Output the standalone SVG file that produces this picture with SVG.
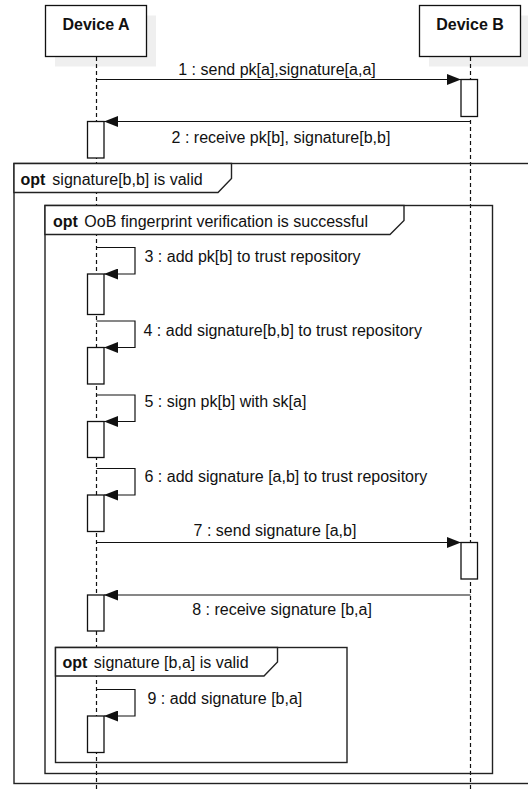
<svg xmlns="http://www.w3.org/2000/svg" width="528" height="789" viewBox="0 0 528 789">
<style>
text{font-family:"Liberation Sans",Arial,sans-serif;font-size:16px;fill:#111}
.b{font-weight:bold}
.actor{fill:#fff;stroke:#111;stroke-width:1.3}
.shadow{fill:#efefef}
.life{stroke:#111;stroke-width:1.2;stroke-dasharray:4 3;fill:none}
.act{fill:#fff;stroke:#111;stroke-width:1.3}
.msg{stroke:#111;stroke-width:1.2;fill:none;marker-end:url(#ah)}
.frame{fill:none;stroke:#222;stroke-width:1.4}
.tab{fill:#fff;stroke:#222;stroke-width:1.4}
</style>
<defs>
<marker id="ah" markerUnits="userSpaceOnUse" markerWidth="15" markerHeight="11" refX="14" refY="5.5" orient="auto">
<path d="M0,0 L14,5.5 L0,11 z" fill="#111"/>
</marker>
</defs>
<rect width="528" height="789" fill="#fff"/>

<g id="deviceA">
<rect class="shadow" x="55" y="15.5" width="101" height="51"/>
<rect class="actor" x="45.5" y="5.5" width="101" height="51"/>
<text class="b" x="96" y="29.5" text-anchor="middle">Device A</text>
</g>
<g id="deviceB">
<rect class="shadow" x="429" y="15.5" width="101" height="51"/>
<rect class="actor" x="419.5" y="5.5" width="101" height="51"/>
<text class="b" x="470" y="29.5" text-anchor="middle">Device B</text>
</g>

<g id="lifelines">
<line class="life" x1="96.5" y1="57" x2="96.5" y2="789"/>
<line class="life" x1="470.5" y1="57" x2="470.5" y2="789"/>
</g>

<g id="frame-outer">
<rect class="frame" x="14" y="163.5" width="520" height="620"/>
<path class="tab" d="M14,163.5 H231.5 V178.5 L218,192.5 H14 Z"/>
<text x="20.5" y="185"><tspan class="b">opt</tspan><tspan dx="2.5"> signature[b,b] is valid</tspan></text>
</g>
<g id="frame-oob">
<rect class="frame" x="45" y="205.5" width="447.5" height="568"/>
<path class="tab" d="M45,205.5 H404 V220.5 L390,234.5 H45 Z"/>
<text x="53" y="226.5"><tspan class="b">opt</tspan><tspan dx="2"> OoB fingerprint verification is successful</tspan></text>
</g>
<g id="frame-valid">
<rect class="frame" x="55.5" y="647.5" width="291.5" height="115"/>
<path class="tab" d="M55.5,647.5 H277.5 V662 L264,676 H55.5 Z"/>
<text x="62.5" y="667.5"><tspan class="b">opt</tspan><tspan dx="2"> signature [b,a] is valid</tspan></text>
</g>

<g id="activations">
<rect class="act" x="461" y="79.5" width="16.5" height="37"/>
<rect class="act" x="87.5" y="121.5" width="16.5" height="36.5"/>
<rect class="act" x="87.5" y="274" width="16.5" height="40.5"/>
<rect class="act" x="87.5" y="347.5" width="16.5" height="36.5"/>
<rect class="act" x="87.5" y="421.5" width="16.5" height="36"/>
<rect class="act" x="87.5" y="495" width="16.5" height="36.5"/>
<rect class="act" x="461" y="542.5" width="16.5" height="36.5"/>
<rect class="act" x="87.5" y="595" width="16.5" height="36"/>
<rect class="act" x="87.5" y="716" width="16.5" height="36.5"/>
</g>

<g id="connectors">
<path class="msg" d="M96.5,79.5 H461"/>
<path class="msg" d="M470.5,121.5 H104"/>
<path class="msg" d="M96.5,247.5 H135 V274 H104"/>
<path class="msg" d="M96.5,321 H135 V347.5 H104"/>
<path class="msg" d="M96.5,395 H135 V421.5 H104"/>
<path class="msg" d="M96.5,468.5 H135 V495 H104"/>
<path class="msg" d="M96.5,542.5 H461"/>
<path class="msg" d="M470.5,595 H104"/>
<path class="msg" d="M96.5,689.5 H135 V716 H104"/>
</g>

<g id="labels">
<text x="277" y="74.5" text-anchor="middle">1 : send pk[a],signature[a,a]</text>
<text x="281" y="143" text-anchor="middle">2 : receive pk[b], signature[b,b]</text>
<text x="144.5" y="262">3 : add pk[b] to trust repository</text>
<text x="143.5" y="336">4 : add signature[b,b] to trust repository</text>
<text x="144.5" y="407">5 : sign pk[b] with sk[a]</text>
<text x="144.5" y="482">6 : add signature [a,b] to trust repository</text>
<text x="275" y="536" text-anchor="middle">7 : send signature [a,b]</text>
<text x="282" y="615" text-anchor="middle">8 : receive signature [b,a]</text>
<text x="147.5" y="703.5">9 : add signature [b,a]</text>
</g>
</svg>
